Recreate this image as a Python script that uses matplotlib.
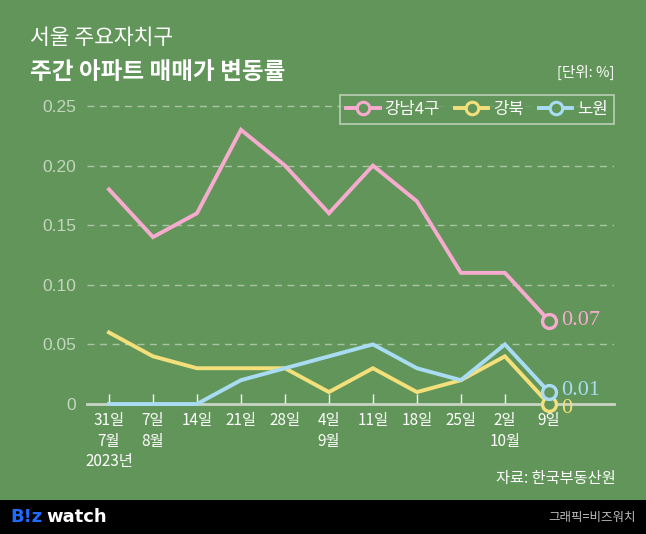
import matplotlib.pyplot as plt
from matplotlib.lines import Line2D

plt.rcParams['font.family'] = ['Noto Sans CJK KR', 'DejaVu Sans']

# data (weekly apartment price change, %)
weeks = ['31일\n7월\n2023년', '7일\n8월', '14일', '21일', '28일', '4일\n9월',
         '11일', '18일', '25일', '2일\n10월', '9일']
gangnam4 = [0.18, 0.14, 0.16, 0.23, 0.20, 0.16, 0.20, 0.17, 0.11, 0.11, 0.07]
gangbuk = [0.06, 0.04, 0.03, 0.03, 0.03, 0.01, 0.03, 0.01, 0.02, 0.04, 0.00]
nowon = [0.00, 0.00, 0.00, 0.02, 0.03, 0.04, 0.05, 0.03, 0.02, 0.05, 0.01]
series_names = ['강남4구', '강북', '노원']
end_labels = ['0.07', '0', '0.01']
yticks = [0, 0.05, 0.10, 0.15, 0.20, 0.25]
ytick_labels = ['0', '0.05', '0.10', '0.15', '0.20', '0.25']

bg = '#62955a'
colors = ['#f7abcf', '#f4e07a', '#a9dcf2']

W, H = 646, 534
fig = plt.figure(figsize=(W / 100, H / 100), dpi=100, facecolor=bg)
ax = fig.add_axes([87 / W, (H - 404) / H, (614 - 87) / W, (404 - 100) / H])
ax.set_facecolor(bg)

x = list(range(len(weeks)))
all_series = [gangnam4, gangbuk, nowon]
label_shift = {'0.07': 0, '0': -0.0035, '0.01': 0.0015}
for vals, c, lab, endlab in zip(all_series, colors, series_names, end_labels):
    ax.plot(x, vals, color=c, lw=2.8, solid_joinstyle='miter', zorder=3, clip_on=False)
    ax.plot(x[-1], vals[-1], 'o', ms=10, mfc=bg, mec=c, mew=2.4, zorder=4, clip_on=False)
    ax.text(x[-1] + 0.28, vals[-1] + label_shift[endlab], endlab, color=c, fontsize=16,
            family='Liberation Serif', va='center', ha='left')

ax.set_xlim(-0.5, 11.48)
ax.set_ylim(0, 0.255)
ax.set_yticks(yticks)
ax.set_yticklabels(ytick_labels, family='Liberation Sans', fontsize=12.5, color='#c3d6bd')
ax.set_xticks(x)
ax.set_xticklabels(weeks, fontsize=11, color='white', linespacing=1.25, va='top')
ax.tick_params(axis='y', length=0, pad=8)
ax.tick_params(axis='x', direction='in', length=7, width=1, color='white', pad=6)
for y in yticks[1:]:
    ax.axhline(y, color='#a9c4a3', lw=1, ls=(0, (5, 4)), zorder=1)
for s in ['top', 'right', 'left']:
    ax.spines[s].set_visible(False)
ax.spines['bottom'].set_color('#c9d4c5')
ax.spines['bottom'].set_linewidth(2)

handles = [Line2D([], [], color=c, lw=2.8, marker='o', ms=9, mfc=bg, mec=c, mew=2.2)
           for c in colors]
leg = ax.legend(handles, series_names, ncol=3, loc='upper right',
                bbox_to_anchor=(614 / W, 1 - 95 / H), bbox_transform=fig.transFigure,
                borderaxespad=0, frameon=True, fontsize=12, handlelength=2.0,
                handletextpad=0.3, columnspacing=0.9, borderpad=0.35, fancybox=False)
leg.get_frame().set_facecolor(bg)
leg.get_frame().set_edgecolor('#d2dccd')
leg.get_frame().set_linewidth(1.2)
for t in leg.get_texts():
    t.set_color('white')

# titles
fig.text(30 / W, 1 - 38 / H, '서울 주요자치구', fontsize=15.5,
         color='white', va='center', ha='left')
fig.text(30 / W, 1 - 72 / H, '주간 아파트 매매가 변동률', fontsize=17, fontweight='bold',
         color='white', va='center', ha='left')
fig.text(614 / W, 1 - 72 / H, '[단위: %]', fontsize=10.5, color='white', va='center', ha='right')
fig.text(616 / W, 1 - 479 / H, '자료: 한국부동산원', fontsize=11,
         color='white', va='center', ha='right')

# bottom bar
fig.patches.append(plt.Rectangle((0, 0), 1, 34 / H, transform=fig.transFigure,
                                 facecolor='black', edgecolor='none', zorder=0))
fig.text(10 / W, 17 / H, 'B!z', fontsize=13, fontweight='bold', color='#1f6bff',
         va='center', ha='left', family='DejaVu Sans')
fig.text(46 / W, 17 / H, 'watch', fontsize=13, fontweight='bold', color='white',
         va='center', ha='left', family='DejaVu Sans')
fig.text(636 / W, 17 / H, '그래픽=비즈워치', fontsize=9, color='#bdbdbd', va='center', ha='right')

fig.savefig('out.png', dpi=100, facecolor=bg)
